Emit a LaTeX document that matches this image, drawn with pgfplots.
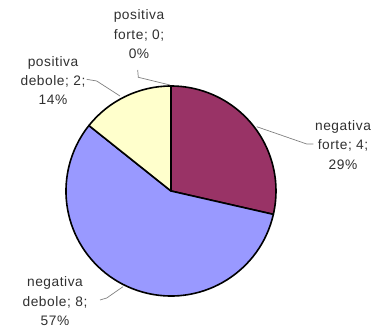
\documentclass[border=0pt]{standalone}
\usepackage{fontspec}
\setmainfont[LetterSpace=4]{Liberation Sans}
\usepackage{pgfplots}
\pgfplotsset{compat=1.18}
\definecolor{negforte}{HTML}{993366}
\definecolor{negdebole}{HTML}{9999FF}
\definecolor{posdebole}{HTML}{FFFFCC}
\definecolor{posforte}{HTML}{CCFFFF}
\definecolor{txt}{HTML}{303030}
\definecolor{lead}{HTML}{808080}
\tikzset{lbl/.style={text=txt, align=center, inner sep=0pt, font=\fontsize{13.8}{19.5}\selectfont}}
% values: negativa forte, negativa debole, positiva debole, positiva forte
\def\vA{4}\def\vB{8}\def\vC{2}\def\vD{0}
\pgfmathsetmacro\tot{\vA+\vB+\vC+\vD}
\pgfmathsetmacro\aA{90}
\pgfmathsetmacro\aB{\aA-\vA/\tot*360}
\pgfmathsetmacro\aC{\aB-\vB/\tot*360}
\pgfmathsetmacro\aD{\aC-\vC/\tot*360}
\def\cx{171}\def\cy{139}
\begin{document}
\begin{tikzpicture}
\begin{axis}[scale only axis, width=377bp, height=330bp,
  xmin=0, xmax=377, ymin=0, ymax=330, hide axis, clip=false]
\path (axis cs:0,0) rectangle (axis cs:377,330);
\filldraw[fill=negforte, draw=black, line width=1.6bp, line join=round]
  (axis cs:\cx,\cy) -- ++(\aA:105bp) arc[start angle=\aA, end angle=\aB, radius=105bp] -- cycle;
\filldraw[fill=negdebole, draw=black, line width=1.6bp, line join=round]
  (axis cs:\cx,\cy) -- ++(\aB:105bp) arc[start angle=\aB, end angle=\aC, radius=105bp] -- cycle;
\filldraw[fill=posdebole, draw=black, line width=1.6bp, line join=round]
  (axis cs:\cx,\cy) -- ++(\aC:105bp) arc[start angle=\aC, end angle=\aD, radius=105bp] -- cycle;
% leader lines
\draw[lead, line width=0.7bp] (axis cs:137.7,260) -- (axis cs:138.3,252.7) -- (axis cs:170,245);
\draw[lead, line width=0.7bp] (axis cs:86.7,250.7) -- (axis cs:96.7,249) -- (axis cs:120,234);
\draw[lead, line width=0.7bp] (axis cs:256.7,203.3) -- (axis cs:306.7,186) -- (axis cs:313.3,186);
\draw[lead, line width=0.7bp] (axis cs:100,30) -- (axis cs:106.7,32) -- (axis cs:123,43.3);
% labels
\node[lbl] at (axis cs:139,295.5) {positiva\\forte; 0;\\0\%};
\node[lbl] at (axis cs:53,249.5) {positiva\\debole; 2;\\14\%};
\node[lbl] at (axis cs:343,185) {negativa\\forte; 4;\\29\%};
\node[lbl] at (axis cs:55,28.5) {negativa\\debole; 8;\\57\%};
\end{axis}
\end{tikzpicture}
\end{document}
